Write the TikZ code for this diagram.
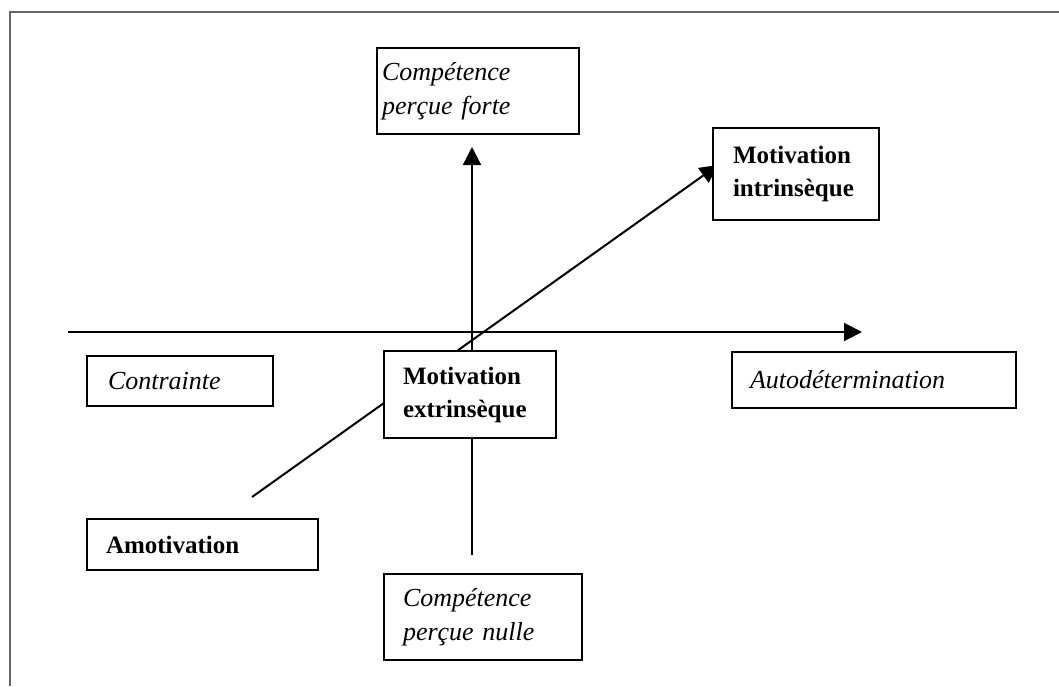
\documentclass[tikz,border=0pt]{standalone}
\usepackage{fontspec}
\setmainfont{Liberation Serif}
\usetikzlibrary{arrows.meta}
\begin{document}
\begin{tikzpicture}[x=0.5pt,y=-0.5pt,
  axis/.style={line width=1pt,black},
  tip/.style={-{Triangle[length=9pt,width=9pt]}},
  frame/.style={line width=1.2pt,black!60},
  box/.style={draw=black,line width=1pt,fill=white,rectangle,anchor=north west,
    align=left,inner ysep=0pt},
  itbox/.style={box,font=\fontsize{13}{17}\selectfont\itshape},
  bfbox/.style={box,font=\fontsize{12.5}{16.5}\selectfont\bfseries}]
\useasboundingbox (0,0) rectangle (1059,686);
% outer frame
\draw[frame] (10,686) -- (10,12) -- (1059,12);
% axis end points
\coordinate (hl) at (68,332);
\coordinate (hr) at (862,332);
\coordinate (vb) at (472,555);
\coordinate (vt) at (472,147);
\coordinate (db) at (252,497);
\coordinate (dt) at (718,165);
% axes
\draw[axis,tip] (hl) -- (hr);
\draw[axis,tip] (vb) -- (vt);
\draw[axis,tip] (db) -- (dt);
% boxes
\node[itbox,inner xsep=2.5pt,text width=96pt,minimum width=101pt,minimum height=43pt]
  (cpf) at (376,47) {Compétence\\perçue forte};
\node[bfbox,inner xsep=10pt,text width=63pt,minimum width=83pt,minimum height=46pt]
  (mi) at (712,127) {Motivation\\intrinsèque};
\node[itbox,inner xsep=10.5pt,text width=72pt,minimum width=93pt,minimum height=25pt]
  (con) at (86,355) {Contrainte};
\node[bfbox,inner xsep=9.5pt,text width=67pt,minimum width=86pt,minimum height=43.5pt]
  (me) at (383,350) {Motivation\\extrinsèque};
\node[itbox,inner xsep=9pt,text width=124pt,minimum width=142pt,minimum height=28pt]
  (auto) at (731,351) {Autodétermination};
\node[bfbox,inner xsep=9.5pt,text width=96.5pt,minimum width=115.5pt,minimum height=25.5pt]
  (amo) at (86,518) {Amotivation};
\node[itbox,inner xsep=9.5pt,text width=80pt,minimum width=99pt,minimum height=43pt]
  (cpn) at (383,573) {Compétence\\perçue nulle};
\end{tikzpicture}
\end{document}
